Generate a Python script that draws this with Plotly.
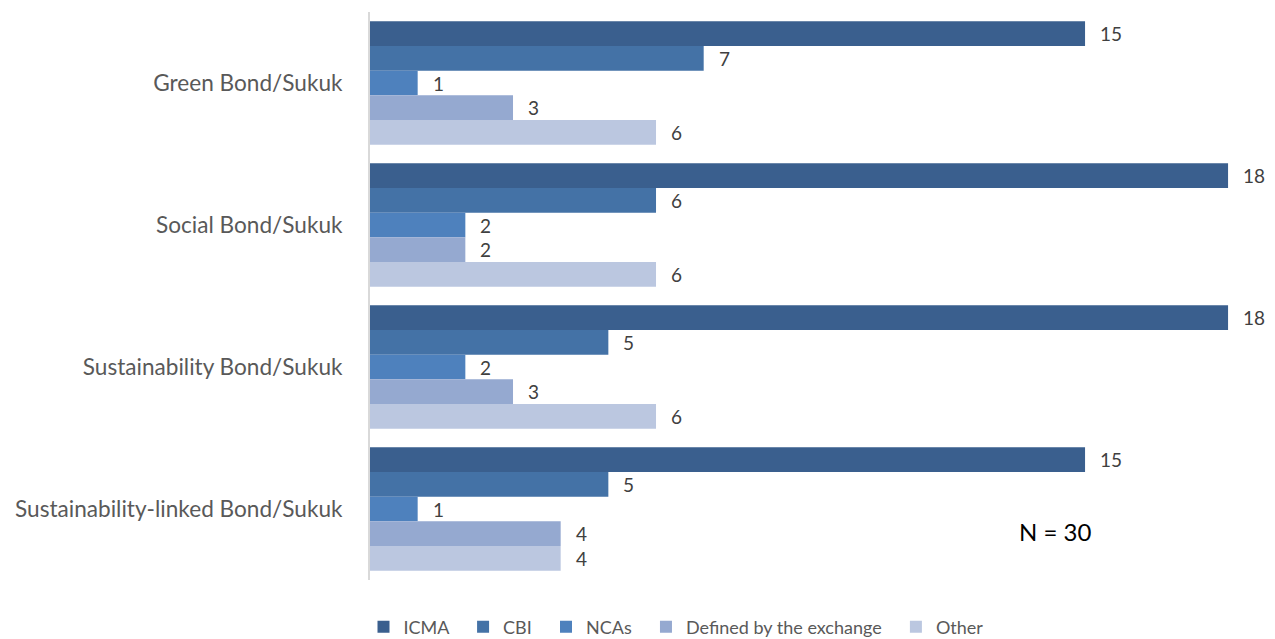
import plotly.graph_objects as go

categories = ["Green Bond/Sukuk", "Social Bond/Sukuk", "Sustainability Bond/Sukuk",
              "Sustainability-linked Bond/Sukuk"]
series_names = ["ICMA", "CBI", "NCAs", "Defined by the exchange", "Other"]
icma = [15, 18, 18, 15]
cbi = [7, 6, 5, 5]
ncas = [1, 2, 2, 1]
exchange = [3, 2, 3, 4]
other = [6, 6, 6, 4]
series_values = [icma, cbi, ncas, exchange, other]
colors = ["#3A5F8E", "#4472A6", "#4E81BD", "#95A9D0", "#BBC7E0"]

FONT = "Lato, Carlito, Calibri, sans-serif"

# plot-area geometry in pixels
FIG_W, FIG_H = 1275, 639
L, T, W, H = 370, 12, 905, 568
PX_PER_UNIT = 47.67

fig = go.Figure()
for idx, (name, vals, col) in enumerate(zip(series_names, series_values, colors)):
    # non-breaking spaces widen the gap between legend entries
    legend_name = name if idx == len(series_names) - 1 else name + "\u00a0\u00a0"
    fig.add_trace(go.Bar(
        y=categories, x=vals, name=legend_name, orientation="h",
        marker=dict(color=col, line=dict(width=0)),
        offsetgroup=name,
    ))

# value labels to the right of each bar
n = len(series_names)
for k, (name, vals) in enumerate(zip(series_names, series_values)):
    for i, (cat, v) in enumerate(zip(categories, vals)):
        fig.add_annotation(
            x=v, y=i - 0.435 + (k + 0.5) * 0.87 / n, xref="x", yref="y",
            text=str(v), showarrow=False, xanchor="left", xshift=13,
            font=dict(family=FONT, size=19, color="#404040"),
        )

fig.add_annotation(
    x=(1055 - L) / W, y=1 - (531 - T) / H, xref="paper", yref="paper",
    text="N = 30", showarrow=False, xanchor="center", yanchor="middle",
    font=dict(family=FONT, size=24, color="#000000"),
)

fig.update_layout(
    width=FIG_W, height=FIG_H,
    margin=dict(l=L, r=FIG_W - L - W, t=T, b=FIG_H - T - H, autoexpand=False),
    plot_bgcolor="white", paper_bgcolor="white",
    barmode="group", bargap=0.13, bargroupgap=0,
    font=dict(family=FONT, color="#595959"),
    showlegend=True,
    legend=dict(
        orientation="h", xref="container", yref="container",
        x=676 / FIG_W, xanchor="center",
        y=(FIG_H - 627) / FIG_H, yanchor="middle",
        font=dict(family=FONT, size=18, color="#595959"),
        itemwidth=30, tracegroupgap=0,
    ),
    xaxis=dict(range=[0, W / PX_PER_UNIT], showgrid=False, showticklabels=False,
               zeroline=False, showline=False, fixedrange=True),
    yaxis=dict(categoryorder="array", categoryarray=categories,
               autorange="reversed", showgrid=False, zeroline=False,
               showline=True, linecolor="#D9D9D9", linewidth=2, ticks="",
               ticklabelstandoff=21,
               tickfont=dict(family=FONT, size=22.6, color="#595959")),
)

fig.write_html("out.html")
